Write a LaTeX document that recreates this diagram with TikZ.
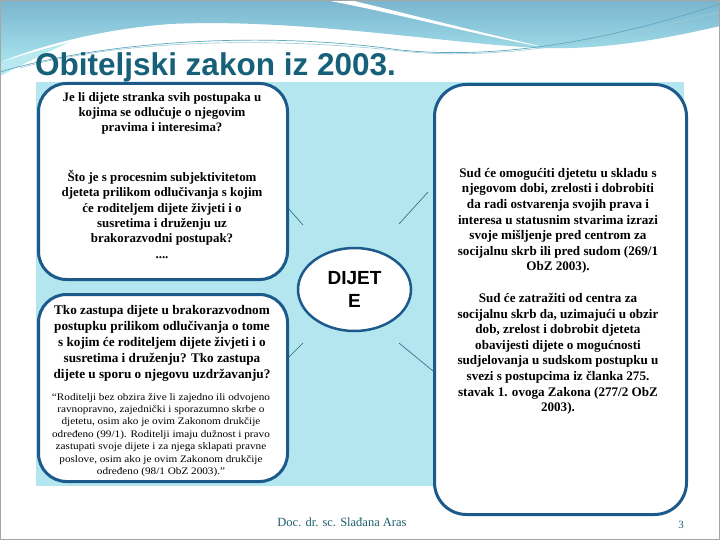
\documentclass[tikz,border=0pt]{standalone}
\usepackage{fontspec}
\setmainfont{Liberation Serif}
\newfontfamily\arialf{Liberation Sans}
\newfontfamily\widef[FakeStretch=1.12]{Liberation Serif}
\usetikzlibrary{shapes.geometric}
\definecolor{bgblue}{HTML}{B3E6EF}
\definecolor{boxline}{HTML}{1B5A8A}
\definecolor{titlec}{HTML}{17607A}
\definecolor{footc}{HTML}{1F5E6E}
\definecolor{bannertop}{HTML}{7AB5CF}
\definecolor{bannerbot}{HTML}{A6E3EC}
\definecolor{wavel}{HTML}{5FA9BF}
\definecolor{connc}{HTML}{2F6280}
\begin{document}
\begin{tikzpicture}[x=1pt,y=-1pt,
  box/.style={draw=boxline, line width=3pt, fill=white, rounded corners=28pt, inner sep=0pt, anchor=north west},
  maintext/.style={align=center, inner sep=0pt, anchor=north, font=\bfseries\fontsize{12.9}{15.4}\selectfont},
  quotetext/.style={align=center, inner sep=0pt, anchor=north, font=\widef\fontsize{10}{12.4}\selectfont},
  conn/.style={draw=connc, line width=0.6pt}]
\useasboundingbox (0,0) rectangle (720,540);
% slide background
\fill[white] (0,0) rectangle (720,540);
% banner
\shade[top color=bannertop, bottom color=bannerbot]
  (0,0) -- (720,0) -- (720,26) .. controls (660,40) and (600,50) .. (540,48)
  .. controls (450,44) and (300,18) .. (170,24) .. controls (90,30) and (30,50) .. (0,62) -- cycle;
\fill[white] (325,0) .. controls (400,14) and (480,36) .. (548,48)
  .. controls (470,30) and (400,12) .. (350,0) -- cycle;
\fill[bannerbot!80!white] (0,62) .. controls (20,56) and (40,50) .. (70,42) .. controls (40,55) and (20,66) .. (0,76) -- cycle;
\draw[wavel, line width=0.7pt] (0,72) .. controls (100,42) and (260,30) .. (400,50) .. controls (520,62) and (640,30) .. (720,4);
\draw[wavel!60!white, line width=0.6pt] (20,68) .. controls (120,40) and (270,36) .. (410,52) .. controls (530,62) and (650,28) .. (720,12);
% title
\node[anchor=base west, inner sep=0pt, text=titlec, font=\arialf\bfseries\fontsize{31.5}{36}\selectfont] (title) at (35,76) {Obiteljski zakon iz 2003.};
% diagram background
\fill[bgblue] (36,82) rectangle (684,486);
% connectors
\coordinate (a1) at (288,208); \coordinate (a2) at (303,225);
\coordinate (b1) at (428,192); \coordinate (b2) at (399,224);
\coordinate (c1) at (303,343); \coordinate (c2) at (288,358);
\coordinate (d1) at (399,343); \coordinate (d2) at (433,371);
\draw[conn] (a1) -- (a2);
\draw[conn] (b1) -- (b2);
\draw[conn] (c1) -- (c2);
\draw[conn] (d1) -- (d2);
% boxes
\node[box, minimum width=249pt, minimum height=196pt] (tl) at (37,82) {};
\node[box, minimum width=249pt, minimum height=187pt] (bl) at (37,293) {};
\node[box, minimum width=252pt, minimum height=430pt, rounded corners=32pt] (rb) at (433,83) {};
\node[ellipse, draw=boxline, line width=2.5pt, fill=white, minimum width=113pt, minimum height=83pt, inner sep=0pt,
  align=center, font=\arialf\bfseries\fontsize{19}{23.5}\selectfont] (child) at (354.5,289.5) {DIJET\\E};
% texts
\node[maintext] (t1) at (162,92) {Je li dijete stranka svih postupaka u\\kojima se odlučuje o njegovim\\pravima i interesima?};
\node[maintext] (t2) at (162,170) {Što je s procesnim subjektivitetom\\djeteta prilikom odlučivanja s kojim\\će roditeljem dijete živjeti i o\\susretima i druženju uz\\brakorazvodni postupak?\\....};
\node[maintext, font=\bfseries\fontsize{13.2}{16}\selectfont] (t3) at (162,305) {Tko zastupa dijete u brakorazvodnom\\postupku prilikom odlučivanja o tome\\s kojim će roditeljem dijete živjeti i o\\susretima i druženju? Tko zastupa\\dijete u sporu o njegovu uzdržavanju?};
\node[quotetext] (t4) at (161,393) {“Roditelji bez obzira žive li zajedno ili odvojeno\\ravnopravno, zajednički i sporazumno skrbe o\\djetetu, osim ako je ovim Zakonom drukčije\\određeno (99/1). Roditelji imaju dužnost i pravo\\zastupati svoje dijete i za njega sklapati pravne\\poslove, osim ako je ovim Zakonom drukčije\\određeno (98/1 ObZ 2003).”};
\node[maintext, font=\bfseries\fontsize{13.1}{15.6}\selectfont] (t5) at (558,168) {Sud će omogućiti djetetu u skladu s\\njegovom dobi, zrelosti i dobrobiti\\da radi ostvarenja svojih prava i\\interesa u statusnim stvarima izrazi\\svoje mišljenje pred centrom za\\socijalnu skrb ili pred sudom (269/1\\ObZ 2003).};
\node[maintext, font=\bfseries\fontsize{13.1}{15.6}\selectfont] (t6) at (558,293) {Sud će zatražiti od centra za\\socijalnu skrb da, uzimajući u obzir\\dob, zrelost i dobrobit djeteta\\obavijesti dijete o mogućnosti\\sudjelovanja u sudskom postupku u\\svezi s postupcima iz članka 275.\\stavak 1. ovoga Zakona (277/2 ObZ\\2003).};
% footer
\node[anchor=base, inner sep=0pt, text=footc, font=\fontsize{12.5}{14}\selectfont] (foot) at (342,526) {Doc. dr. sc. Slađana Aras};
\node[anchor=base, inner sep=0pt, text=footc, font=\fontsize{11}{12}\selectfont] (page) at (681,528) {3};
% slide border
\draw[gray!70, line width=1pt] (0.5,0.5) rectangle (719.5,539.5);
\end{tikzpicture}
\end{document}
